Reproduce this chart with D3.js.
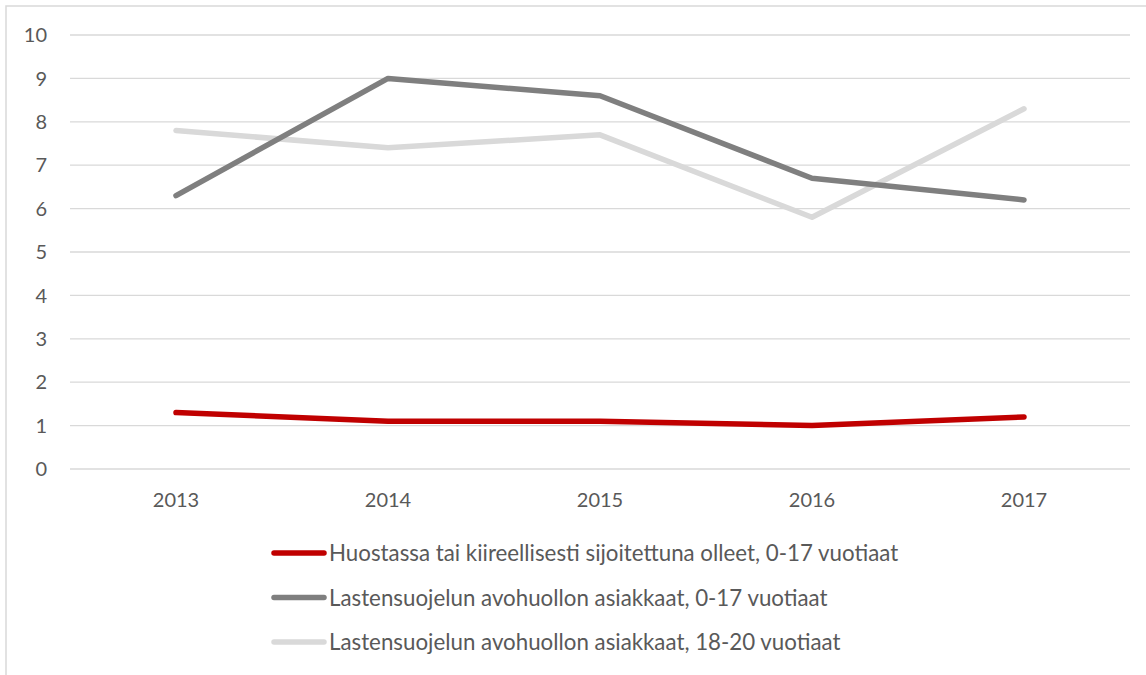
<!DOCTYPE html>
<html>
<head>
<meta charset="utf-8">
<script src="https://cdnjs.cloudflare.com/ajax/libs/d3/7.8.5/d3.min.js"></script>
<style>
  body { margin: 0; background: #fff; }
  text { font-family: Lato, "Open Sans", sans-serif; fill: #595959; }
</style>
</head>
<body>
<script>
// Size of the page
let width = 1146;
let height = 675;

// data
let years = ["2013", "2014", "2015", "2016", "2017"];
let huostassa = [1.3, 1.1, 1.1, 1.0, 1.2];
let avo017 = [6.3, 9.0, 8.6, 6.7, 6.2];
let avo1820 = [7.8, 7.4, 7.7, 5.8, 8.3];
let yTicks = [0, 1, 2, 3, 4, 5, 6, 7, 8, 9, 10];

let seriesNames = [
  "Huostassa tai kiireellisesti sijoitettuna olleet, 0-17 vuotiaat",
  "Lastensuojelun avohuollon asiakkaat, 0-17 vuotiaat",
  "Lastensuojelun avohuollon asiakkaat, 18-20 vuotiaat"
];
let seriesColors = ["#C00000", "#7F7F7F", "#D9D9D9"];
let seriesValues = [huostassa, avo017, avo1820];

let svg = d3.select('body').append('svg')
  .attr('width', width)
  .attr('height', height);

// chart frame (only left and top edges visible)
svg.append('rect')
  .attr('x', 6).attr('y', 6)
  .attr('width', width + 20).attr('height', height + 20)
  .attr('fill', 'none')
  .attr('stroke', '#D9D9D9')
  .attr('stroke-width', 1.5);

let x = d3.scaleBand()
  .domain(years)
  .range([70, 1130]);

let y = d3.scaleLinear()
  .domain([0, 10])
  .range([469, 35]);

// gridlines
svg.append('g')
  .selectAll('line')
  .data(yTicks)
  .join('line')
  .attr('x1', 70).attr('x2', 1130)
  .attr('y1', d => y(d)).attr('y2', d => y(d))
  .attr('stroke', '#D9D9D9')
  .attr('stroke-width', 1.3);

// y labels
svg.append('g')
  .selectAll('text')
  .data(yTicks)
  .join('text')
  .attr('x', 47)
  .attr('y', d => y(d))
  .attr('dy', '0.36em')
  .attr('text-anchor', 'end')
  .style('font-size', '20px')
  .text(d => d);

// x labels
svg.append('g')
  .selectAll('text')
  .data(years)
  .join('text')
  .attr('x', d => x(d) + x.bandwidth() / 2)
  .attr('y', 507)
  .attr('text-anchor', 'middle')
  .style('font-size', '20px')
  .text(d => d);

let line = d3.line()
  .x((d, i) => x(years[i]) + x.bandwidth() / 2)
  .y(d => y(d));

// draw back to front: light gray, dark gray, red
[2, 1, 0].forEach(k => {
  svg.append('path')
    .datum(seriesValues[k])
    .attr('d', line)
    .attr('fill', 'none')
    .attr('stroke', seriesColors[k])
    .attr('stroke-width', 5.5)
    .attr('stroke-linecap', 'round')
    .attr('stroke-linejoin', 'round');
});

// legend
let legend = svg.append('g')
  .selectAll('g')
  .data(seriesNames)
  .join('g')
  .attr('transform', (d, i) => `translate(0, ${553 + i * 44.5})`);

legend.append('line')
  .attr('x1', 274).attr('x2', 324)
  .attr('y1', 0).attr('y2', 0)
  .attr('stroke', (d, i) => seriesColors[i])
  .attr('stroke-width', 5.5)
  .attr('stroke-linecap', 'round');

legend.append('text')
  .attr('x', 329)
  .attr('y', 0)
  .attr('dy', '0.36em')
  .style('font-size', '22.3px')
  .text(d => d);
</script>
</body>
</html>
